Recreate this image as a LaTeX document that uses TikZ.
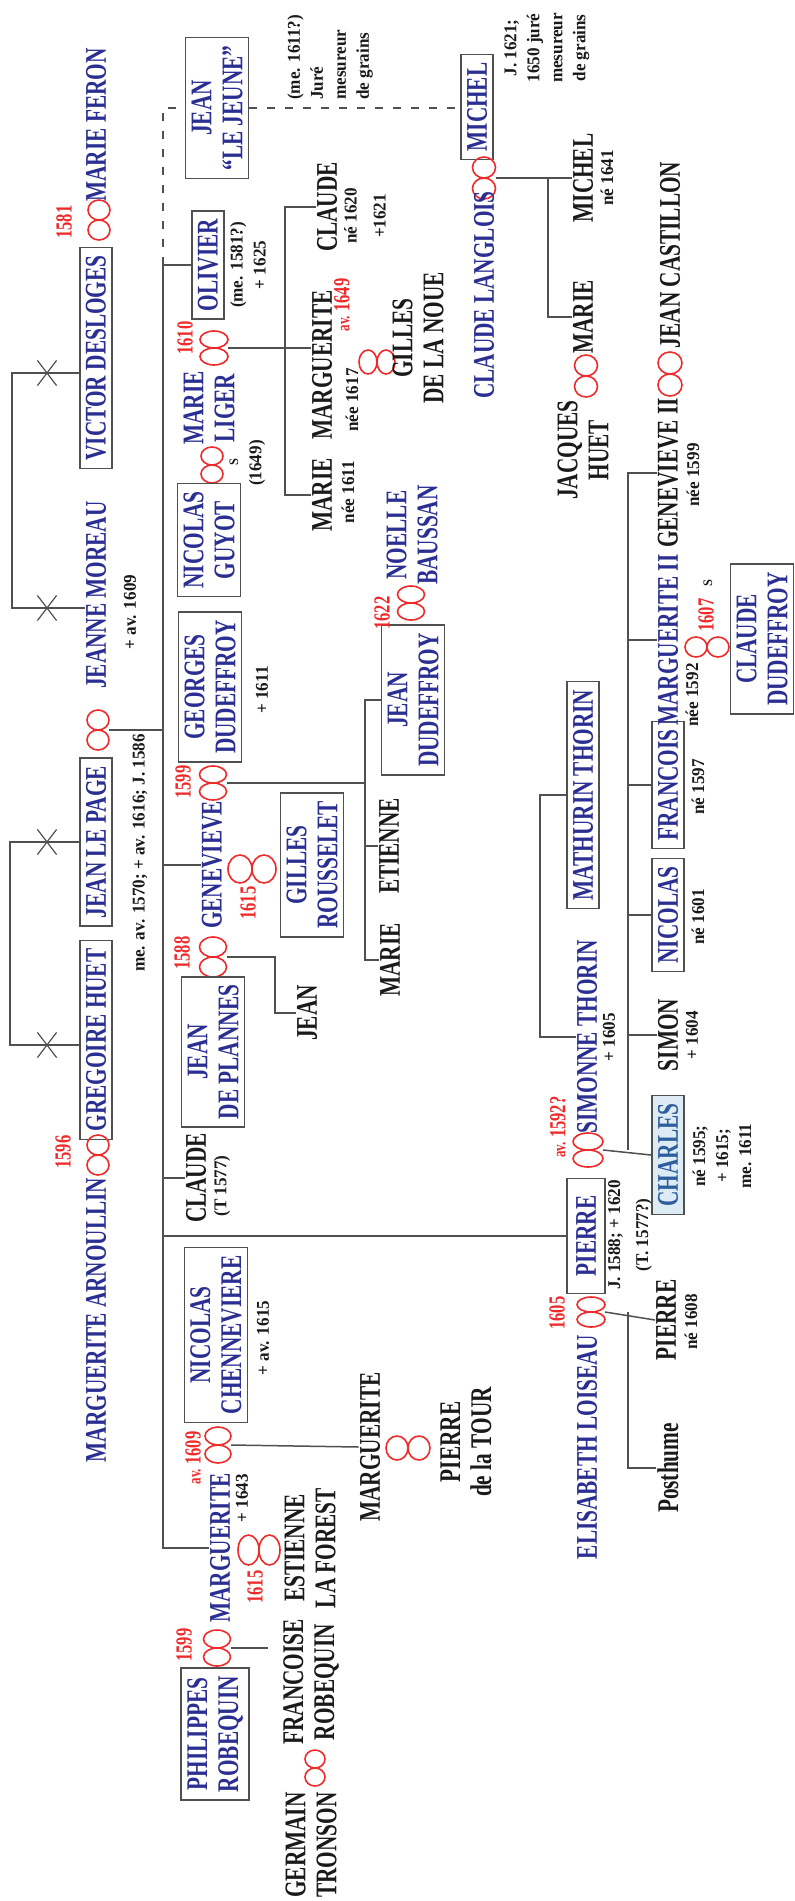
\documentclass[tikz,border=0pt]{standalone}
\usepackage{fontspec}
\usetikzlibrary{shapes.misc}
\newfontfamily\namefont[FakeStretch=0.71]{Liberation Serif}
\newfontfamily\notefont[FakeStretch=0.95]{Liberation Serif}
\newfontfamily\yearfont[FakeStretch=0.72]{Liberation Serif}
\definecolor{cnavy}{HTML}{2A2F91}
\definecolor{cred}{HTML}{EE2A2A}
\definecolor{cline}{HTML}{505050}
\definecolor{cink}{HTML}{1A1A1A}
\definecolor{csky}{HTML}{DCEBF4}
\definecolor{cteal}{HTML}{2F5E9E}
\tikzset{
  kin/.style={rotate=90, inner sep=1pt, align=center, text=cink,
    font=\namefont\bfseries\fontsize{30}{31}\selectfont},
  blu/.style={kin, text=cnavy},
  who/.style={blu, draw=cline, line width=1.5pt, inner xsep=8pt, inner ysep=6pt},
  note/.style={rotate=90, inner sep=0pt, align=center, text=cink,
    font=\notefont\bfseries\fontsize{18}{23}\selectfont},
  yr/.style={rotate=90, inner sep=0pt, text=cred,
    font=\yearfont\bfseries\fontsize{23}{24}\selectfont},
  link/.style={draw=cline, line width=1.5pt},
  dashlink/.style={link, dash pattern=on 8pt off 10pt},
  xmark/.style={cross out, draw=cline, line width=1.2pt, minimum width=18pt,
    minimum height=24pt, inner sep=0pt},
  wedline/.style={draw=cred, line width=1.6pt},
  pics/wedv/.style 2 args={code={
    \draw[wedline] (0,-#2) circle[x radius=#1, y radius=#2]
      (0,#2) circle[x radius=#1, y radius=#2];
    \coordinate (-e) at (#1,0);}},
  pics/wedh/.style 2 args={code={
    \draw[wedline] (-#1,0) circle[x radius=#1, y radius=#2]
      (#1,0) circle[x radius=#1, y radius=#2];
    \coordinate (-e) at (2*#1,0);}},
}
\newcommand\avx{{\fontsize{18}{18}\selectfont av.}}

\begin{document}
\begin{tikzpicture}[x=1pt, y=-1pt]
  \useasboundingbox[fill=white] (0,0) rectangle (795,1901);
  % grandparents
  \node[blu] (feron) at (96,125) {MARIE FERON};
  \pic (m1581) at (99,220) {wedv={11}{10}};
  \node[yr] (y1581) at (64,222) {1581};
  \node[who] (victor) at (96,358) {VICTOR DESLOGES};
  \node[blu] (jeanne) at (96,595) {JEANNE MOREAU};
  \node[note] (jeanneN) at (130,612) {+ av. 1609};
  \pic (mLP) at (98,730) {wedv={11}{10}};
  \node[who] (lepage) at (96,842) {JEAN LE PAGE};
  \node[note] (lepageN) at (140,853) {me. av. 1570; + av. 1616; J. 1586};
  \node[who] (huet) at (96,1040) {GREGOIRE HUET};
  \pic (m1596) at (98,1155) {wedv={11}{10}};
  \node[yr] (y1596) at (63,1152) {1596};
  \node[blu] (arnoullin) at (96,1320) {MARGUERITE ARNOULLIN};
  \node[xmark] (xv) at (47,373) {};
  \node[xmark] (xj) at (47,608) {};
  \node[xmark] (xp) at (47,842) {};
  \node[xmark] (xg) at (47,1045) {};
  \draw[link] (victor.north |- xv) -- (xv.center) -- ++(-35,0) |- (xj.center) -- (jeanne.north |- xj);
  \draw[link] (lepage.north |- xp) -- (xp.center) -- ++(-37,0) |- (xg.center) -- (huet.north |- xg);

  % children of Jean Le Page
  \coordinate (trunk) at (163,730);
  \node[who] (jeune) at (217,108) {JEAN\\“LE JEUNE”};
  \node[note, anchor=west, align=left] (jeuneN) at (330,100) {(me. 1611?)\\Juré\\mesureur\\de grains};
  \node[who] (michel) at (477,107) {MICHEL};
  \node[note] (michelN) at (547,48) {J. 1621;\\1650 juré\\mesureur\\de grains};
  \pic (mMi) at (484,178) {wedv={11.5}{10.5}};
  \node[blu] (langlois) at (484,295) {CLAUDE LANGLOIS};
  \node[kin] (kMichel) at (583,178) {MICHEL};
  \node[note] (kMichelN) at (607,178) {né 1641};
  \node[kin] (kMarie) at (583,317) {MARIE};
  \pic (mHuet) at (586,376) {wedv={11.5}{10.5}};
  \node[kin] (jhuet) at (583,450) {JACQUES\\HUET};

  \node[who] (olivier) at (208,265) {OLIVIER};
  \node[note] (olivierN) at (248,265) {(me. 1581?)\\+ 1625};
  \pic (m1610) at (214,348) {wedv={14}{8.5}};
  \node[yr] (y1610) at (185,338) {1610};
  \node[blu] (liger) at (209,408) {MARIE\\LIGER};
  \pic (mGuyot) at (212,465) {wedv={11}{9}};
  \node[note, font=\notefont\bfseries\fontsize{13}{14}\selectfont] (guyotS) at (234,462) {S};
  \node[note] (guyotY) at (257,463) {(1649)};
  \node[who] (guyot) at (209,540) {NICOLAS\\GUYOT};
  \node[kin] (kClaude) at (327,207) {CLAUDE};
  \node[note] (kClaudeN) at (365,216) {né 1620\\[6pt]+1621};
  \node[kin] (kMarg) at (322,365) {MARGUERITE};
  \node[note] (kMargN) at (352,400) {née 1617};
  \pic (mNoue) at (377,362) {wedh={9}{12}};
  \node[yr] (yNoue) at (342,305) {\avx\ 1649};
  \node[kin] (lanoue) at (418,338) {GILLES\\DE LA NOUE};
  \node[kin] (kMarie2) at (322,495) {MARIE};
  \node[note] (kMarie2N) at (348,492) {née 1611};

  \node[who] (georges) at (210,687) {GEORGES\\DUDEFFROY};
  \node[note] (georgesN) at (262,690) {+ 1611};
  \pic (m1599) at (213,783) {wedv={13.5}{8.5}};
  \node[yr] (y1599) at (183,782) {1599};
  \node[blu] (gen) at (212,865) {GENEVIEVE};
  \pic (m1615a) at (252,869) {wedh={12}{14}};
  \node[yr] (y1615a) at (248,903) {1615};
  \node[who] (rousselet) at (312,865) {GILLES\\ROUSSELET};
  \pic (m1588) at (213,957) {wedv={13.5}{10}};
  \node[yr] (y1588) at (182,953) {1588};
  \node[who] (plannes) at (213,1052) {JEAN\\DE PLANNES};
  \node[kin] (kJean) at (307,1013) {JEAN};
  \node[who] (jdud) at (413,700) {JEAN\\DUDEFFROY};
  \pic (m1622) at (411,603) {wedv={13.5}{8.5}};
  \node[yr] (y1622) at (382,613) {1622};
  \node[blu] (baussan) at (412,535) {NOELLE\\BAUSSAN};
  \node[kin] (etienne) at (389,846) {ETIENNE};
  \node[kin] (kMarie3) at (390,960) {MARIE};

  \node[kin] (claude) at (196,1178) {CLAUDE};
  \node[note] (claudeN) at (222,1186) {(T 1577)};

  \node[who, minimum width=115pt, minimum height=38pt] (pierre) at (586,1236) {PIERRE};
  \node[note] (pierreN) at (630,1235) {J. 1588; + 1620\\[5pt](T. 1577?)};
  \pic (mSim) at (588,1150) {wedv={15}{8.5}};
  \node[yr] (ySim) at (558,1127) {\avx\ 1592?};
  \node[blu] (simonne) at (587,1037) {SIMONNE THORIN};
  \node[note] (simonneN) at (609,1037) {+ 1605};
  \node[who] (mathurin) at (583,795) {MATHURIN THORIN};
  \node[who, fill=csky, text=cteal] (charles) at (668,1155) {CHARLES};
  \node[note] (charlesN) at (722,1156) {né 1595;\\+ 1615;\\me. 1611};
  \node[kin] (simon) at (668,1035) {SIMON};
  \node[note] (simonN) at (692,1035) {+ 1604};
  \node[who] (nicolas) at (668,915) {NICOLAS};
  \node[note] (nicolasN) at (698,917) {né 1601};
  \node[who] (franc) at (668,785) {FRANCOIS};
  \node[note] (francN) at (698,787) {né 1597};
  \node[blu] (marg2) at (668,640) {MARGUERITE II};
  \node[note] (marg2N) at (692,695) {née 1592};
  \pic (m1607) at (707,647) {wedh={11}{10}};
  \node[yr] (y1607) at (706,615) {1607};
  \node[note, font=\notefont\bfseries\fontsize{13}{14}\selectfont] (y1607S) at (708,583) {S};
  \node[who] (cdud) at (762,639) {CLAUDE\\DUDEFFROY};
  \node[kin] (gen2) at (668,473) {GENEVIEVE II};
  \node[note] (gen2N) at (693,475) {née 1599};
  \pic (mCast) at (670,374) {wedv={12}{11}};
  \node[kin] (castillon) at (670,255) {JEAN CASTILLON};

  \pic (m1605) at (591,1312) {wedv={14}{7.5}};
  \node[yr] (y1605) at (557,1313) {1605};
  \node[blu] (elisabeth) at (587,1447) {ELISABETH LOISEAU};
  \node[kin] (kPierre) at (666,1320) {PIERRE};
  \node[note] (kPierreN) at (691,1322) {né 1608};
  \node[kin] (posthume) at (668,1468) {Posthume};

  \node[blu] (marg) at (220,1548) {MARGUERITE};
  \node[note] (margN) at (242,1498) {+ 1643};
  \pic (mChen) at (218,1445) {wedv={13}{9}};
  \node[yr] (yChen) at (193,1458) {\avx\ 1609};
  \node[who] (chenn) at (216,1335) {NICOLAS\\CHENNEVIERE};
  \node[note] (chennN) at (263,1338) {+ av. 1615};
  \node[kin] (kMarg3) at (370,1447) {MARGUERITE};
  \pic (mTour) at (408,1448) {wedh={11}{12}};
  \node[kin] (tour) at (466,1442) {PIERRE\\de la TOUR};
  \pic (m1615b) at (259,1550) {wedh={10.5}{15}};
  \node[yr] (y1615b) at (255,1587) {1615};
  \node[kin] (forest) at (310,1548) {ESTIENNE\\LA FOREST};
  \pic (m1599b) at (217,1648) {wedv={13.5}{9}};
  \node[yr] (y1599b) at (184,1645) {1599};
  \node[who] (robequin) at (215,1734) {PHILIPPES\\ROBEQUIN};
  \node[kin] (francoise) at (311,1682) {FRANCOISE\\ROBEQUIN};
  \pic (mTron) at (315,1768) {wedv={10}{9}};
  \node[kin] (tronson) at (311,1845) {GERMAIN\\TRONSON};

  % links
  \draw[link] (mLP-e) -- (trunk);
  \draw[link] (trunk |- olivier) -- (trunk |- marg) -- (marg.north);
  \draw[link] (trunk |- olivier) -- (olivier.north);
  \draw[dashlink] (trunk |- olivier) -- (trunk |- jeune) -- (jeune.north);
  \draw[dashlink] (jeune.south) -- (jeune.south -| michel.north);
  \draw[link] (trunk |- gen) -- (gen.north);
  \draw[link] (trunk |- claude) -- (claude.north);
  \draw[link] (trunk |- pierre) -- (pierre.north);

  \coordinate (spO) at (285,348);
  \draw[link] (m1610-e) -- (kMarg.north |- spO);
  \draw[link] (kClaude.north) -| (spO) |- (kMarie2.north);
  \coordinate (spG) at (365,783);
  \draw[link] (m1599-e) -- (spG);
  \draw[link] (jdud.north) -| (spG) |- (kMarie3.north);
  \draw[link] (spG |- etienne) -- (etienne.north);
  \coordinate (spJ) at (275,957);
  \draw[link] (m1588-e) -- (spJ) |- (kJean.north);

  \coordinate (spM) at (548,178);
  \draw[link] (mMi-e) -- (kMichel.north);
  \draw[link] (spM) |- (kMarie.north);

  \coordinate (spT) at (540,900);
  \draw[link] (mathurin.north) -| (spT) |- (simonne.north);
  \coordinate (spC) at (628,1150);
  \draw[link] (mSim-e) -- (charles.north);
  \draw[link] (spC) |- (gen2.north);
  \foreach \k in {marg2,franc,nicolas,simon}
    \draw[link] (spC |- \k) -- (\k.north);
  \coordinate (spP) at (628,1312);
  \draw[link] (m1605-e) -- (kPierre.north);
  \draw[link] (spP) |- (posthume.north);

  \draw[link] (mChen-e) -- (kMarg3.north);
  \coordinate (fEnd) at ([xshift=-14pt]francoise.north);
  \draw[link] (m1599b-e) -- (fEnd |- m1599b-e);
\end{tikzpicture}
\end{document}
